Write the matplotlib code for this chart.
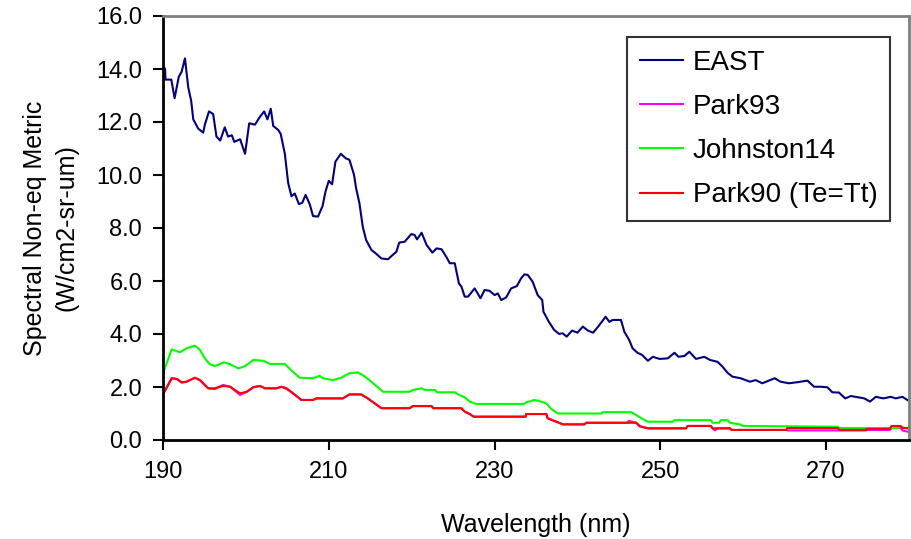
import matplotlib.pyplot as plt
import numpy as np

plt.rcParams['font.family'] = ['Liberation Sans', 'DejaVu Sans']

# EAST spectrum (wavelength nm, metric)
east_wl = [190.0, 190.25, 190.3, 191.0, 191.4, 191.9, 192.25, 192.65, 193.05, 193.4,
           193.65, 194.25, 194.85, 195.05, 195.55, 196.05, 196.45, 196.9, 197.45, 197.85,
           198.3, 198.6, 199.3, 199.9, 200.4, 201.1, 201.7, 202.2, 202.6, 203.0,
           203.3, 203.9, 204.2, 204.7, 205.1, 205.5, 205.9, 206.4, 206.8, 207.2,
           207.7, 208.1, 208.7, 209.25, 209.6, 210.0, 210.4, 210.8, 211.45, 212.05,
           212.5, 213.05, 213.3, 213.7, 214.1, 214.5, 215.15, 215.75, 216.35, 217.15,
           217.55, 218.15, 218.5, 219.15, 219.95, 220.35, 220.65, 221.2, 221.8, 222.5,
           223.0, 223.6, 224.2, 224.6, 225.2, 225.7, 226.0, 226.4, 226.8, 227.6,
           228.3, 228.8, 229.4, 230.0, 230.4, 230.8, 231.4, 232.0, 232.7, 233.2,
           233.6, 234.0, 234.6, 235.2, 235.75, 235.9, 236.55, 237.2, 237.8, 238.2,
           238.7, 239.35, 240.0, 240.65, 241.25, 241.9, 242.6, 243.4, 243.85, 244.25,
           245.25, 245.65, 246.25, 246.65, 247.25, 247.8, 248.5, 249.1, 249.9, 250.9,
           251.7, 252.2, 252.9, 253.5, 254.3, 255.3, 256.0, 256.9, 257.5, 258.1,
           258.7, 259.7, 260.8, 261.5, 262.3, 263.1, 263.8, 264.5, 265.5, 266.5,
           267.75, 268.55, 269.35, 270.15, 270.75, 271.55, 272.3, 273.0, 274.6, 275.3,
           276.0, 276.9, 277.8, 278.4, 279.2, 279.8]
east_val = [14.15, 14.0, 13.6, 13.6, 12.9, 13.7, 13.9, 14.4, 13.3, 12.8,
            12.1, 11.75, 11.6, 11.9, 12.4, 12.3, 11.45, 11.3, 11.8, 11.45,
            11.5, 11.25, 11.35, 10.8, 11.95, 11.9, 12.2, 12.4, 12.1, 12.5,
            11.85, 11.7, 11.55, 10.8, 9.7, 9.2, 9.3, 8.9, 8.95, 9.25,
            8.9, 8.45, 8.43, 8.83, 9.37, 9.78, 9.65, 10.5, 10.8, 10.63,
            10.57, 10.0, 9.5, 8.93, 8.05, 7.55, 7.17, 7.02, 6.85, 6.82,
            6.94, 7.1, 7.45, 7.48, 7.77, 7.74, 7.57, 7.82, 7.36, 7.07,
            7.23, 7.2, 6.9, 6.67, 6.67, 5.91, 5.79, 5.41, 5.41, 5.72,
            5.35, 5.66, 5.63, 5.47, 5.53, 5.28, 5.38, 5.72, 5.81, 6.1,
            6.25, 6.23, 5.97, 5.47, 5.28, 4.84, 4.46, 4.15, 4.0, 4.03,
            3.9, 4.13, 4.05, 4.28, 4.13, 4.05, 4.32, 4.65, 4.46, 4.53,
            4.53, 4.09, 3.77, 3.46, 3.29, 3.21, 2.99, 3.14, 3.06, 3.08,
            3.29, 3.14, 3.17, 3.33, 3.06, 3.14, 3.02, 2.95, 2.77, 2.54,
            2.39, 2.33, 2.2, 2.26, 2.14, 2.24, 2.33, 2.2, 2.14, 2.18,
            2.24, 2.01, 2.01, 1.99, 1.8, 1.79, 1.57, 1.66, 1.57, 1.45,
            1.63, 1.57, 1.63, 1.57, 1.63, 1.51]

# Johnston14 model
john_wl = [190.0, 191.05, 192.05, 192.85, 193.85, 194.45, 195.05, 195.65, 196.25, 197.35,
           198.1, 199.1, 199.9, 200.9, 202.1, 202.9, 204.7, 205.5, 206.5, 208.1,
           208.9, 209.3, 210.5, 211.5, 212.5, 213.5, 214.1, 214.9, 216.55, 219.75,
           220.15, 221.2, 221.6, 222.8, 223.05, 225.2, 225.6, 226.4, 227.0, 227.8,
           233.6, 233.8, 234.8, 235.3, 236.25, 236.85, 237.65, 242.9, 243.05, 246.5,
           247.3, 248.1, 248.5, 251.5, 251.7, 256.1, 256.3, 257.1, 257.3, 258.1,
           258.4, 259.6, 260.0, 271.4, 271.6, 278.5, 279.0, 280.0]
john_val = [2.52, 3.42, 3.31, 3.46, 3.56, 3.4, 3.08, 2.86, 2.79, 2.93,
            2.86, 2.7, 2.79, 3.02, 2.99, 2.87, 2.87, 2.62, 2.35, 2.33,
            2.42, 2.33, 2.26, 2.35, 2.52, 2.55, 2.45, 2.26, 1.82, 1.82,
            1.89, 1.95, 1.89, 1.89, 1.8, 1.8, 1.72, 1.61, 1.45, 1.36,
            1.36, 1.42, 1.51, 1.48, 1.38, 1.17, 1.0, 1.0, 1.05, 1.05,
            0.9, 0.75, 0.69, 0.69, 0.75, 0.75, 0.65, 0.65, 0.75, 0.75,
            0.65, 0.59, 0.53, 0.5, 0.45, 0.45, 0.5, 0.42]

# Park90 (Te=Tt) model
p90_wl = [190.0, 191.05, 191.7, 192.25, 192.85, 193.85, 194.45, 195.45, 196.25, 197.25,
          198.1, 199.3, 200.1, 200.9, 201.7, 202.3, 203.7, 204.3, 204.9, 205.7,
          206.7, 208.1, 208.5, 211.7, 212.5, 213.9, 214.7, 216.35, 219.75, 220.15,
          222.4, 222.6, 226.0, 226.4, 227.0, 227.5, 233.75, 233.8, 236.25, 236.4,
          237.45, 238.25, 240.85, 241.05, 247.1, 247.5, 248.5, 253.1, 253.3, 256.1,
          256.3, 258.4, 258.6, 265.2, 265.3, 271.4, 271.6, 274.8, 274.9, 277.7,
          277.9, 279.0, 279.2, 280.0]
p90_val = [1.72, 2.33, 2.3, 2.18, 2.2, 2.35, 2.26, 1.95, 1.95, 2.04,
           2.01, 1.76, 1.82, 1.99, 2.04, 1.95, 1.95, 2.01, 1.93, 1.76,
           1.51, 1.51, 1.57, 1.57, 1.72, 1.72, 1.57, 1.2, 1.2, 1.28,
           1.28, 1.2, 1.2, 1.07, 0.98, 0.88, 0.88, 0.98, 0.98, 0.82,
           0.69, 0.59, 0.59, 0.65, 0.65, 0.52, 0.44, 0.44, 0.53, 0.53,
           0.44, 0.44, 0.38, 0.38, 0.45, 0.45, 0.38, 0.38, 0.42, 0.42,
           0.53, 0.53, 0.45, 0.45]

# Park93 model (nearly identical to Park90)
p93_wl = [190.0, 191.05, 191.7, 192.25, 192.85, 193.85, 194.45, 195.45, 196.25, 197.25,
          198.1, 199.3, 200.1, 200.9, 201.7, 202.3, 203.7, 204.3, 204.9, 205.7,
          206.7, 208.1, 208.5, 211.7, 212.5, 213.9, 214.7, 216.35, 219.75, 220.15,
          222.4, 222.6, 226.0, 226.4, 227.0, 227.5, 233.75, 233.8, 236.25, 236.4,
          237.45, 238.25, 240.85, 241.05, 246.0, 246.2, 247.1, 247.5, 248.5, 253.1,
          253.3, 256.1, 256.3, 256.6, 256.9, 258.4, 258.6, 265.2, 265.3, 271.4,
          271.6, 274.8, 274.9, 277.7, 277.9, 279.0, 279.2, 280.0]
p93_val = [1.72, 2.33, 2.3, 2.16, 2.2, 2.35, 2.26, 1.95, 1.92, 2.08,
           2.01, 1.7, 1.82, 1.99, 2.04, 1.95, 1.95, 2.01, 1.96, 1.76,
           1.51, 1.51, 1.57, 1.57, 1.72, 1.72, 1.57, 1.2, 1.2, 1.28,
           1.28, 1.2, 1.2, 1.07, 0.98, 0.88, 0.88, 0.98, 0.98, 0.82,
           0.69, 0.59, 0.59, 0.65, 0.65, 0.72, 0.65, 0.52, 0.44, 0.44,
           0.53, 0.53, 0.44, 0.36, 0.44, 0.44, 0.38, 0.38, 0.36, 0.36,
           0.36, 0.36, 0.38, 0.38, 0.45, 0.45, 0.36, 0.3]

fig = plt.figure(figsize=(9.12, 5.39), dpi=100)
ax = fig.add_axes([163 / 912, 1 - 440 / 539, 746 / 912, 424 / 539])

ax.plot(east_wl, east_val, color='#000080', lw=1.5, label='EAST')
ax.plot(p93_wl, p93_val, color='#ff00ff', lw=1.5, label='Park93')
ax.plot(john_wl, john_val, color='#00ff00', lw=1.5, label='Johnston14')
ax.plot(p90_wl, p90_val, color='#ff0000', lw=1.5, label='Park90 (Te=Tt)')

ax.set_xlim(190, 280)
ax.set_ylim(0, 16)
ax.set_xticks(np.arange(190, 271, 20))
ax.set_yticks(np.arange(0, 16.1, 2))
ax.set_yticklabels(['%.1f' % v for v in np.arange(0, 16.1, 2)])

for side in ['left', 'bottom']:
    ax.spines[side].set_color('black')
    ax.spines[side].set_linewidth(2)
for side in ['top', 'right']:
    ax.spines[side].set_color('#808080')
    ax.spines[side].set_linewidth(2)
ax.tick_params(direction='out', length=7, width=1.5, labelsize=17, pad=8)

ax.set_xlabel('Wavelength (nm)', fontsize=18, labelpad=22)
ax.set_ylabel('Spectral Non-eq Metric\n(W/cm2-sr-um)', fontsize=18, labelpad=13,
              linespacing=1.35)

leg = ax.legend(loc='upper right', bbox_to_anchor=((890 - 163) / 746, (440 - 37) / 424),
                borderaxespad=0, fontsize=20, frameon=True, fancybox=False,
                edgecolor='black', handlelength=1.55, handletextpad=0.35,
                labelspacing=0.66, borderpad=0.45)
leg.get_frame().set_linewidth(1.5)

fig.savefig('out.png', dpi=100)
